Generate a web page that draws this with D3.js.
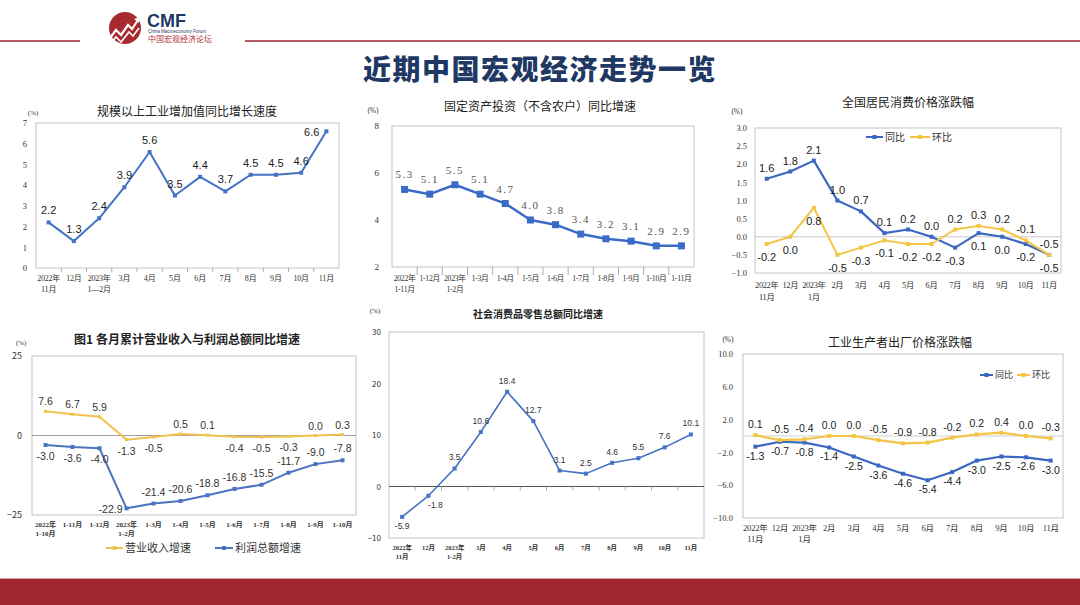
<!DOCTYPE html>
<html>
<head>
<meta charset="utf-8">
<title>近期中国宏观经济走势一览</title>
<script src="https://d3js.org/d3.v7.min.js"></script>
<style>
  body { margin: 0; background: #fff; }
  svg { display: block; font-family: "Liberation Sans", Arial, "Noto Sans CJK SC", sans-serif; }
  .cn { font-family: "Noto Sans CJK SC", sans-serif; }
  .serif { font-family: "Liberation Serif", "Noto Sans CJK SC", serif; }
</style>
</head>
<body>
<script>
// ---- data ----
const ipCats = ["2022年|11月", "12月", "2023年|1—2月", "3月", "4月", "5月", "6月", "7月", "8月", "9月", "10月", "11月"];
const ipValues = [2.2, 1.3, 2.4, 3.9, 5.6, 3.5, 4.4, 3.7, 4.5, 4.5, 4.6, 6.6];
const ipTicks = [0, 1, 2, 3, 4, 5, 6, 7];

const faiCats = ["2022年|1-11月", "1-12月", "2023年|1-2月", "1-3月", "1-4月", "1-5月", "1-6月", "1-7月", "1-8月", "1-9月", "1-10月", "1-11月"];
const faiValues = [5.3, 5.1, 5.5, 5.1, 4.7, 4.0, 3.8, 3.4, 3.2, 3.1, 2.9, 2.9];
const faiTicks = [2, 4, 6, 8];

const cpiCats = ["2022年|11月", "12月", "2023年|1月", "2月", "3月", "4月", "5月", "6月", "7月", "8月", "9月", "10月", "11月"];
const cpiYoY = [1.6, 1.8, 2.1, 1.0, 0.7, 0.1, 0.2, 0.0, -0.3, 0.1, 0.0, -0.2, -0.5];
const cpiMoM = [-0.2, 0.0, 0.8, -0.5, -0.3, -0.1, -0.2, -0.2, 0.2, 0.3, 0.2, -0.1, -0.5];
const cpiTicks = [-1, -0.5, 0, 0.5, 1, 1.5, 2, 2.5, 3];

const profitCats = ["2022年|1-10月", "1-11月", "1-12月", "2023年|1-2月", "1-3月", "1-4月", "1-5月", "1-6月", "1-7月", "1-8月", "1-9月", "1-10月"];
const revenueGrowth = [7.6, 6.7, 5.9, -1.3, -0.5, 0.5, 0.1, -0.4, -0.5, -0.3, 0.0, 0.3];
const profitGrowth = [-3.0, -3.6, -4.0, -22.9, -21.4, -20.6, -18.8, -16.8, -15.5, -11.7, -9.0, -7.8];
const profitTicks = [-25, 0, 25];

const retailCats = ["2022年|11月", "12月", "2023年|1-2月", "3月", "4月", "5月", "6月", "7月", "8月", "9月", "10月", "11月"];
const retailValues = [-5.9, -1.8, 3.5, 10.6, 18.4, 12.7, 3.1, 2.5, 4.6, 5.5, 7.6, 10.1];
const retailTicks = [-10, 0, 10, 20, 30];

const ppiCats = ["2022年|11月", "12月", "2023年|1月", "2月", "3月", "4月", "5月", "6月", "7月", "8月", "9月", "10月", "11月"];
const ppiYoY = [-1.3, -0.7, -0.8, -1.4, -2.5, -3.6, -4.6, -5.4, -4.4, -3.0, -2.5, -2.6, -3.0];
const ppiMoM = [0.1, -0.5, -0.4, 0.0, 0.0, -0.5, -0.9, -0.8, -0.2, 0.2, 0.4, 0.0, -0.3];
const ppiTicks = [-10, -6, -2, 2, 6, 10];

const BLUE = "#3a67c2", YELLOW = "#f4c445", RED = "#9f2530", NAVY = "#1f3864";

const svg = d3.select("body").append("svg").attr("width", 1080).attr("height", 605);

// ---- header ----
svg.append("line").attr("x1", 0).attr("x2", 80).attr("y1", 41).attr("y2", 41).attr("stroke", RED).attr("stroke-width", 1.5);
svg.append("line").attr("x1", 245).attr("x2", 1080).attr("y1", 41).attr("y2", 41).attr("stroke", RED).attr("stroke-width", 1.5);
svg.append("circle").attr("cx", 125).attr("cy", 28).attr("r", 16).attr("fill", "#a82a30");
svg.append("polyline").attr("points", "110,38 116,30 121,35 128,25 132,29 138,20")
  .attr("fill", "none").attr("stroke", "#fff").attr("stroke-width", 2.2);
svg.append("polyline").attr("points", "110,44 116,37 121,42 129,32 133,36 139,28")
  .attr("fill", "none").attr("stroke", "#fff").attr("stroke-width", 1.6);
svg.append("path").attr("d", "M134,19 L140,17 L139,23 Z").attr("fill", "#fff");
svg.append("text").attr("x", 147).attr("y", 27).attr("font-size", 18).attr("font-weight", "bold").attr("fill", NAVY).text("CMF");
svg.append("text").attr("x", 148).attr("y", 33).attr("font-size", 4.5).attr("fill", NAVY).text("China Macroeconomy Forum");
svg.append("text").attr("class", "cn").attr("x", 148).attr("y", 42).attr("font-size", 8).attr("fill", "#b0303a").text("中国宏观经济论坛");
svg.append("text").attr("class", "cn").attr("x", 540).attr("y", 80).attr("text-anchor", "middle")
  .attr("font-size", 28).attr("font-weight", 900).attr("letter-spacing", 1.5).attr("fill", NAVY)
  .text("近期中国宏观经济走势一览");

// ---- footer ----
svg.append("rect").attr("x", 0).attr("y", 578).attr("width", 1080).attr("height", 1).attr("fill", "#d9a4a8");
svg.append("rect").attr("x", 0).attr("y", 579).attr("width", 1080).attr("height", 26).attr("fill", RED);

// ---- generic line chart ----
function lineChart(o) {
  const [L, R, T, B] = o.box;
  const g = svg.append("g");
  const x = d3.scaleBand().domain(d3.range(o.cats.length)).range([L, R]);
  const y = d3.scaleLinear().domain(o.domain).range([B, T]);
  const cx = i => x(i) + x.bandwidth() / 2;

  g.append("rect").attr("x", L).attr("y", T).attr("width", R - L).attr("height", B - T)
    .attr("fill", "none").attr("stroke", o.frame || "#c4c4c4").attr("stroke-width", 1);

  const ya = g.append("g").attr("transform", `translate(${L},0)`)
    .call(d3.axisLeft(y).tickValues(o.ticks).tickFormat(o.fmt || d3.format("d")).tickSize(0).tickPadding(o.yPad));
  ya.select(".domain").remove();
  ya.selectAll("text").attr("class", o.yClass || "serif").attr("font-size", o.yFont).attr("fill", "#333");

  if (o.zero) {
    g.append("line").attr("x1", L).attr("x2", R).attr("y1", y(0)).attr("y2", y(0))
      .attr("stroke", o.zero.color).attr("stroke-width", o.zero.width);
  }

  const tickY = o.tickAtZero ? y(0) : B;
  if (o.tickLen) {
    g.selectAll(null).data(d3.range(1, o.cats.length)).join("line")
      .attr("x1", i => x(i)).attr("x2", i => x(i)).attr("y1", tickY).attr("y2", tickY + o.tickLen)
      .attr("stroke", "#999").attr("stroke-width", 0.8);
  }

  const xa = g.append("g").attr("transform", `translate(0,${B})`)
    .call(d3.axisBottom(x).tickSize(0).tickFormat(""));
  xa.select(".domain").remove();
  xa.selectAll(".tick text").remove();
  xa.selectAll(".tick").each(function (i) {
    const t = d3.select(this).append("text").attr("class", "serif").attr("text-anchor", "middle")
      .attr("font-size", o.xFont).attr("font-weight", o.xBold ? "bold" : "normal")
      .attr("letter-spacing", o.xSpacing || 0).attr("fill", "#333");
    o.cats[i].split("|").forEach((s, k) => {
      t.append("tspan").attr("x", 0).attr("y", o.xLabY - B + k * o.xLabGap).text(s);
    });
  });

  o.series.forEach(s => {
    const line = d3.line().x((d, i) => cx(i)).y(d => y(d));
    g.append("path").datum(s.values).attr("d", line).attr("fill", "none")
      .attr("stroke", s.color).attr("stroke-width", s.width).attr("stroke-linejoin", "round");
    g.selectAll(null).data(s.values).join("rect")
      .attr("x", (d, i) => cx(i) - s.marker / 2).attr("y", d => y(d) - s.marker / 2)
      .attr("width", s.marker).attr("height", s.marker).attr("fill", s.color);
    g.selectAll(null).data(s.values).join("text")
      .attr("class", s.labelClass || "")
      .each(function (d, i) {
        const p = s.label(d, i);
        d3.select(this).attr("x", cx(i) + (p.dx || 0)).attr("y", y(d) + p.dy)
          .attr("text-anchor", p.a || "middle");
      })
      .attr("font-size", s.labelFont).attr("fill", s.labelColor || "#222")
      .attr("letter-spacing", s.labelSpacing || 0)
      .text(d => d.toFixed(1));
  });

  g.append("text").attr("class", "cn").attr("x", o.title[1]).attr("y", o.title[2])
    .attr("text-anchor", "middle").attr("font-size", o.title[3])
    .attr("font-weight", o.title[4] || "normal").attr("fill", "#222").text(o.title[0]);
  g.append("text").attr("class", "serif").attr("x", o.unit[0]).attr("y", o.unit[1])
    .attr("text-anchor", "middle").attr("font-size", o.unit[2]).attr("fill", "#333").text("(%)");

  (o.legend || []).forEach(l => {
    g.append("line").attr("x1", l.x).attr("x2", l.x + l.len).attr("y1", l.y).attr("y2", l.y)
      .attr("stroke", l.color).attr("stroke-width", 2);
    g.append("rect").attr("x", l.x + l.len / 2 - 2).attr("y", l.y - 2).attr("width", 4).attr("height", 4).attr("fill", l.color);
    g.append("text").attr("class", "cn").attr("x", l.x + l.len + 2).attr("y", l.y + l.font * 0.36)
      .attr("font-size", l.font).attr("fill", "#333").text(l.text);
  });
}

// 1. 规模以上工业增加值
lineChart({
  box: [36, 339, 123, 268], domain: [0, 7], ticks: ipTicks, yPad: 9, yFont: 8.5,
  cats: ipCats, xLabY: 281, xLabGap: 11, xFont: 8, xSpacing: -0.2, tickLen: 4,
  title: ["规模以上工业增加值同比增长速度", 187, 116, 12], unit: [33, 115, 7],
  series: [{
    values: ipValues, color: "#4472c4", width: 2, marker: 4, labelFont: 11,
    label: (d, i) => i === ipValues.length - 1 ? { dx: -7, dy: 5, a: "end" } : { dy: -8 }
  }]
});

// 2. 固定资产投资
lineChart({
  box: [392, 694, 126, 267], domain: [2, 8], ticks: faiTicks, yPad: 13, yFont: 9,
  cats: faiCats, xLabY: 281, xLabGap: 11, xFont: 7.8, xSpacing: -0.3, tickLen: 8,
  title: ["固定资产投资（不含农户）同比增速", 540, 111, 12], unit: [373, 113, 7.5],
  series: [{
    values: faiValues, color: "#3a6bc6", width: 2.5, marker: 7, labelFont: 11,
    labelClass: "serif", labelColor: "#555", labelSpacing: 1.5,
    label: () => ({ dy: -11 })
  }]
});

// 3. 居民消费价格
lineChart({
  box: [755, 1061, 128, 273], domain: [-1, 3], ticks: cpiTicks, fmt: d3.format(".1f"), yPad: 8, yFont: 8.5,
  cats: cpiCats, xLabY: 288, xLabGap: 12, xFont: 8.3, xSpacing: -0.3, tickLen: 0,
  zero: { color: "#c8c8c8", width: 1 },
  title: ["全国居民消费价格涨跌幅", 908, 107, 12], unit: [737, 114, 7.5],
  series: [
    { values: cpiYoY, color: BLUE, width: 2.2, marker: 4, labelFont: 11,
      label: (d, i) => d > cpiMoM[i] ? { dy: -7 } : { dy: 17 } },
    { values: cpiMoM, color: YELLOW, width: 2, marker: 4, labelFont: 11,
      label: (d, i) => d >= cpiYoY[i] ? { dy: -7 } : { dy: 17 } }
  ],
  legend: [
    { x: 866, y: 137, len: 17, color: BLUE, text: "同比", font: 10 },
    { x: 910, y: 137, len: 20, color: YELLOW, text: "环比", font: 10 }
  ]
});

// 4. 营业收入与利润总额
lineChart({
  box: [32, 356, 356, 515], domain: [-25, 25], ticks: profitTicks, yPad: 10, yFont: 9, yClass: "cn",
  cats: profitCats, xLabY: 527, xLabGap: 9, xFont: 7, xBold: true, tickLen: 0,
  zero: { color: "#a0a0a0", width: 1 },
  title: ["图1  各月累计营业收入与利润总额同比增速", 187, 344, 12, "bold"], unit: [21, 345, 7],
  series: [
    { values: revenueGrowth, color: "#f2c14e", width: 2, marker: 3, labelFont: 10.5, labelColor: "#333",
      label: d => d >= 0 ? { dy: -6 } : { dy: 15 } },
    { values: profitGrowth, color: "#4a74c0", width: 2, marker: 4, labelFont: 10.5, labelColor: "#333",
      label: (d, i) => i < 3 ? { dy: 15 } : i === 3 ? { dx: -4, dy: 5, a: "end" } : { dy: -8 } }
  ],
  legend: [
    { x: 106, y: 548, len: 17, color: "#f2c14e", text: "营业收入增速", font: 11 },
    { x: 215, y: 548, len: 18, color: "#4a74c0", text: "利润总额增速", font: 11 }
  ]
});

// 5. 社会消费品零售总额
lineChart({
  box: [389, 704, 332, 538], domain: [-10, 30], ticks: retailTicks, yPad: 8, yFont: 8, yClass: "cn",
  cats: retailCats, xLabY: 550, xLabGap: 8.5, xFont: 6.5, xBold: true, tickLen: 4, tickAtZero: true,
  zero: { color: "#555", width: 1 },
  title: ["社会消费品零售总额同比增速", 538, 318, 10, "bold"], unit: [375, 313, 7],
  series: [{
    values: retailValues, color: "#4472c4", width: 1.6, marker: 4, labelFont: 8.5, labelColor: "#333",
    label: (d, i) => d < 0 ? { dx: i === 1 ? 7 : 0, dy: 12 } : { dy: -8 }
  }]
});

// 6. 工业生产者出厂价格
lineChart({
  box: [743, 1063, 354, 518], domain: [-10, 10], ticks: ppiTicks, fmt: d3.format(".1f"), yPad: 10, yFont: 8.5,
  cats: ppiCats, xLabY: 531, xLabGap: 11, xFont: 8.5, xSpacing: -0.2, tickLen: 0,
  zero: { color: "#cfcfcf", width: 1 },
  title: ["工业生产者出厂价格涨跌幅", 900, 347, 12], unit: [728, 342, 7.5],
  series: [
    { values: ppiYoY, color: BLUE, width: 2.2, marker: 4, labelFont: 10.5,
      label: (d, i) => d > ppiMoM[i] ? { dy: -7 } : { dy: 13 } },
    { values: ppiMoM, color: YELLOW, width: 2.2, marker: 4, labelFont: 10.5,
      label: (d, i) => d >= ppiYoY[i] ? { dy: -7 } : { dy: 13 } }
  ],
  legend: [
    { x: 980, y: 375, len: 13, color: BLUE, text: "同比", font: 9 },
    { x: 1017, y: 375, len: 13, color: YELLOW, text: "环比", font: 9 }
  ]
});
</script>
</body>
</html>
